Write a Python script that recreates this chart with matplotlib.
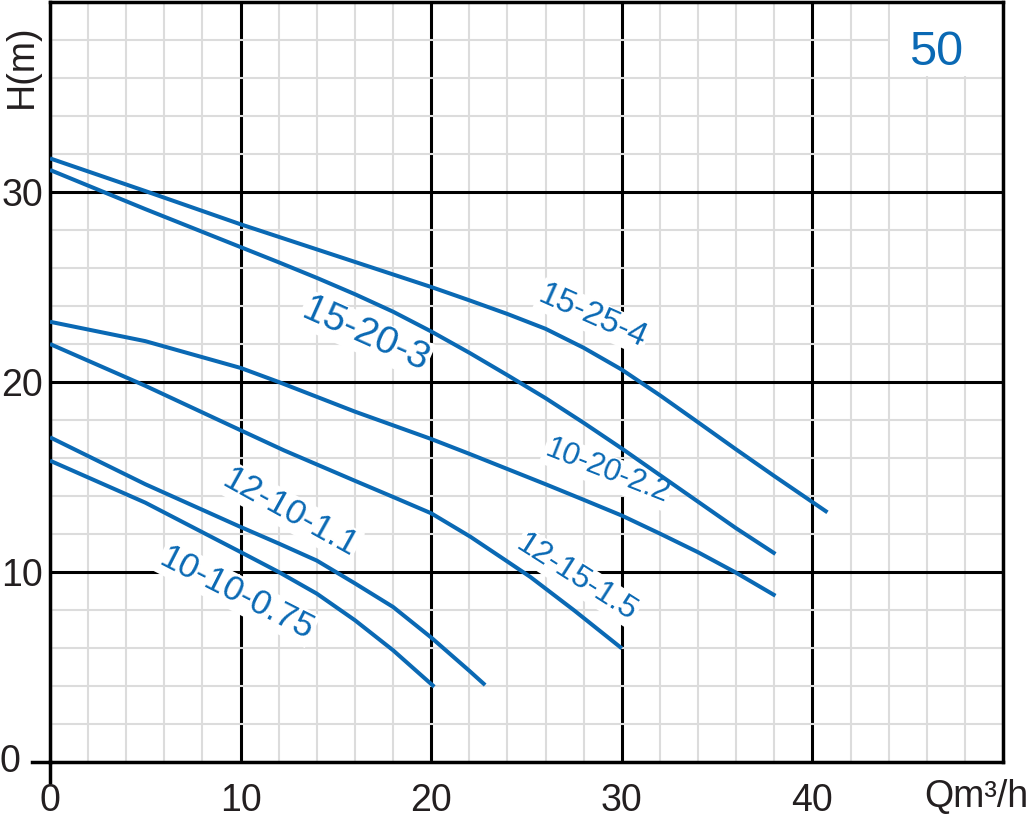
import numpy as np
import matplotlib
matplotlib.use('Agg')
import matplotlib.pyplot as plt
from matplotlib.patches import Rectangle

plt.rcParams['font.family'] = ['Liberation Sans', 'DejaVu Sans']

# Krzywe pompy: Q (m3/h) i H (m)
q_15_25_4 = [0, 5, 10, 14, 18, 20, 22, 24, 26, 28, 30, 32, 34, 36, 38, 40.79]
h_15_25_4 = [31.77, 30.05, 28.30, 26.98, 25.66, 25.0, 24.30, 23.58, 22.80, 21.80,
             20.65, 19.30, 17.88, 16.45, 15.05, 13.14]

q_15_20_3 = [0, 5, 10, 12, 14, 16, 18, 20, 22, 24, 26, 28, 30, 32, 34, 36, 38.06]
h_15_20_3 = [31.16, 29.1, 27.1, 26.3, 25.48, 24.62, 23.7, 22.66, 21.54, 20.36, 19.15,
             17.85, 16.5, 15.1, 13.7, 12.3, 10.95]

q_10_20_22 = [0, 5, 10, 12, 14, 16, 18, 20, 22, 24, 26, 28, 30, 32, 34, 36, 38.06]
h_10_20_22 = [23.17, 22.15, 20.74, 20.0, 19.22, 18.44, 17.72, 17.0, 16.22, 15.42, 14.62,
              13.8, 12.97, 12.02, 11.04, 9.96, 8.75]

q_12_15_15 = [0, 5, 10, 12.28, 16, 18, 20, 22.05, 24, 25.2, 27.5, 30]
h_12_15_15 = [22.0, 19.8, 17.46, 16.4, 14.8, 13.95, 13.09, 11.86, 10.55, 9.74, 7.98, 5.98]

q_12_10_11 = [0, 5, 10, 12, 14, 16, 18, 20, 22, 22.83]
h_12_10_11 = [17.09, 14.62, 12.37, 11.5, 10.6, 9.4, 8.16, 6.55, 4.8, 4.05]

q_10_10_075 = [0, 5, 10, 12, 14, 16, 18, 20.16]
h_10_10_075 = [15.86, 13.65, 11.05, 10.0, 8.86, 7.46, 5.88, 3.96]

curves = [
    (q_15_25_4, h_15_25_4),
    (q_15_20_3, h_15_20_3),
    (q_10_20_22, h_10_20_22),
    (q_12_15_15, h_12_15_15),
    (q_12_10_11, h_12_10_11),
    (q_10_10_075, h_10_10_075),
]

# etykiety: tekst, x, y, kąt, rozmiar
labels = [
    ('15-25-4', 28.48, 23.44, -24, 24),
    ('15-20-3', 16.54, 22.47, -24, 28),
    ('10-20-2.2', 29.22, 15.28, -21.5, 22),
    ('12-15-1.5', 27.65, 9.71, -32.5, 23),
    ('12-10-1.1', 12.6, 13.13, -29, 25),
    ('10-10-0.75', 9.8, 8.88, -27, 25),
]

x_ticks = [0, 10, 20, 30, 40]
y_ticks = [10, 20, 30]

blue = '#0a69b4'
dark = '#231f20'

fig = plt.figure(figsize=(10.31, 8.21), dpi=100)
ax = fig.add_axes([50 / 1031, 59 / 821, 953 / 1031, 760 / 821])
ax.set_xlim(0, 50)
ax.set_ylim(0, 40)

ax.set_xticks(x_ticks)
ax.set_yticks(y_ticks)
ax.set_xticks(np.arange(0, 51, 2), minor=True)
ax.set_yticks(np.arange(0, 41, 2), minor=True)
ax.grid(which='minor', color='#dcdcdc', lw=1.5)
ax.grid(which='major', color='black', lw=2.2)
ax.set_axisbelow(True)
ax.tick_params(which='both', length=0)
ax.tick_params(axis='x', labelsize=27, pad=15, labelcolor=dark)
ax.tick_params(axis='y', labelsize=27, pad=5, labelcolor=dark)
for s in ax.spines.values():
    s.set_linewidth(2.5)

# osie wystające poza początek układu
ax.plot([-0.96, 0], [0, 0], color='black', lw=2.5, clip_on=False)
ax.plot([0, 0], [-1.04, 0], color='black', lw=2.5, clip_on=False)
ax.text(-2.1, 0, '0', fontsize=27, color=dark, ha='center', va='center', clip_on=False)

for q, h in curves:
    ax.plot(q, h, color=blue, lw=2.9, solid_capstyle='butt',
            solid_joinstyle='round', zorder=3)

for txt, x, y, rot, fs in labels:
    ax.text(x, y, txt, rotation=rot, fontsize=fs, color=blue,
            ha='center', va='center', rotation_mode='anchor', zorder=2,
            bbox=dict(facecolor='white', edgecolor='none', pad=1))

# białe pole pod numerem serii
ax.add_patch(Rectangle((44.08, 36.08), 5.92, 3.92, facecolor='white',
                       edgecolor='none', zorder=1))
ax.text(46.5, 37.34, '50', fontsize=35, color=blue, ha='center', va='center', zorder=2)

ax.text(48.6, -1.84, 'Qm³/h', fontsize=27, color=dark, ha='center', va='center',
        clip_on=False)
ax.text(-1.47, 36.63, 'H(m)', fontsize=27, color=dark, rotation=90,
        ha='center', va='center', clip_on=False)

plt.savefig('out.png', dpi=100)
